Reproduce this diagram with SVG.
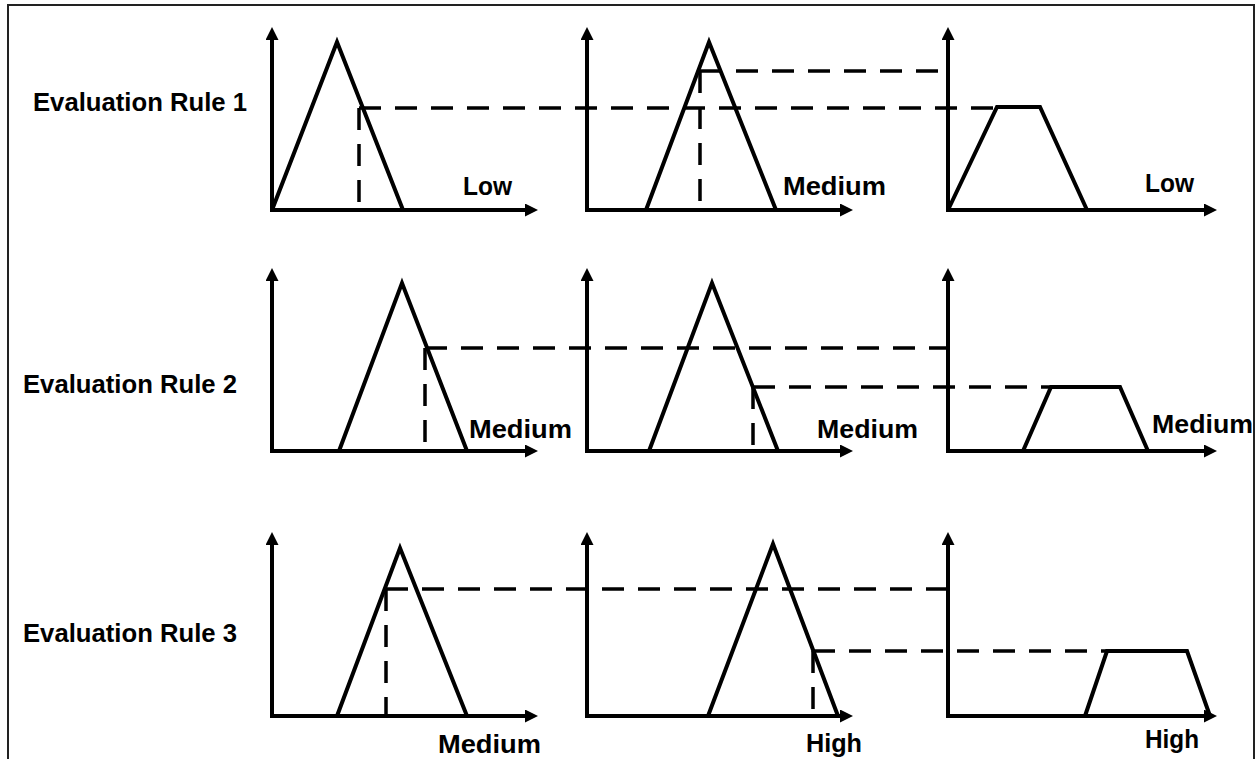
<svg xmlns="http://www.w3.org/2000/svg" width="1259" height="759" viewBox="0 0 1259 759">
<style>
.frame{fill:none;stroke:#222;stroke-width:2}
.axis{fill:none;stroke:#000;stroke-width:4;stroke-linejoin:miter;marker-start:url(#ah);marker-end:url(#ah)}
.mf{fill:none;stroke:#000;stroke-width:4;stroke-linejoin:miter}
.dash{fill:none;stroke:#000;stroke-width:3.5;stroke-dasharray:22 14}
.lbl{font-family:"Liberation Sans",Arial,sans-serif;font-weight:bold;font-size:25.5px;fill:#000}
</style>
<defs>
<marker id="ah" markerUnits="userSpaceOnUse" markerWidth="14" markerHeight="14" refX="3" refY="6.5" orient="auto-start-reverse">
<path d="M0,0 L13,6.5 L0,13 z" fill="#000"/>
</marker>
</defs>
<rect class="frame" x="8" y="5" width="1246" height="800"/>

<g id="labels">
<text class="lbl" x="33" y="111" textLength="214" lengthAdjust="spacingAndGlyphs">Evaluation Rule 1</text>
<text class="lbl" x="23" y="393" textLength="214" lengthAdjust="spacingAndGlyphs">Evaluation Rule 2</text>
<text class="lbl" x="23" y="642" textLength="214" lengthAdjust="spacingAndGlyphs">Evaluation Rule 3</text>
</g>

<g id="r1p1">
<path class="axis" d="M272,37 L272,210 L528,210"/>
<polyline class="mf" points="272,210 337,42 403,210"/>
<text class="lbl" x="463" y="195" textLength="49" lengthAdjust="spacingAndGlyphs">Low</text>
</g>
<g id="r1p2">
<path class="axis" d="M587,37 L587,210 L843,210"/>
<polyline class="mf" points="646,210 709,42 776,210"/>
<text class="lbl" x="783" y="195" textLength="103" lengthAdjust="spacingAndGlyphs">Medium</text>
</g>
<g id="r1p3">
<path class="axis" d="M948,37 L948,210 L1207,210"/>
<polyline class="mf" points="948,210 997,107 1040,107 1087,210"/>
<text class="lbl" x="1145" y="192" textLength="49" lengthAdjust="spacingAndGlyphs">Low</text>
</g>

<g id="r2p1">
<path class="axis" d="M272,278 L272,451 L528,451"/>
<polyline class="mf" points="339,451 402,283 467,451"/>
<text class="lbl" x="469" y="438" textLength="103" lengthAdjust="spacingAndGlyphs">Medium</text>
</g>
<g id="r2p2">
<path class="axis" d="M587,278 L587,451 L843,451"/>
<polyline class="mf" points="649,451 712,283 778,451"/>
<text class="lbl" x="817" y="438" textLength="101" lengthAdjust="spacingAndGlyphs">Medium</text>
</g>
<g id="r2p3">
<path class="axis" d="M948,278 L948,451 L1207,451"/>
<polyline class="mf" points="1023,451 1051,387 1120,387 1148,451"/>
<text class="lbl" x="1152" y="433" textLength="101" lengthAdjust="spacingAndGlyphs">Medium</text>
</g>

<g id="r3p1">
<path class="axis" d="M272,542 L272,716 L528,716"/>
<polyline class="mf" points="337,716 400,548 467,716"/>
<text class="lbl" x="438" y="753" textLength="103" lengthAdjust="spacingAndGlyphs">Medium</text>
</g>
<g id="r3p2">
<path class="axis" d="M587,542 L587,716 L843,716"/>
<polyline class="mf" points="708,716 773,544 838,716"/>
<text class="lbl" x="806" y="752" textLength="56" lengthAdjust="spacingAndGlyphs">High</text>
</g>
<g id="r3p3">
<path class="axis" d="M948,542 L948,716 L1207,716"/>
<polyline class="mf" points="1085,716 1107,651 1187,651 1210,716"/>
<text class="lbl" x="1145" y="748" textLength="54" lengthAdjust="spacingAndGlyphs">High</text>
</g>

<g id="connectors">
<line class="dash" x1="359" y1="108" x2="997" y2="108"/>
<line class="dash" x1="359" y1="108" x2="359" y2="210"/>
<line class="dash" x1="700" y1="71" x2="948" y2="71"/>
<line class="dash" x1="700" y1="71" x2="700" y2="210"/>
<line class="dash" x1="425" y1="348" x2="948" y2="348"/>
<line class="dash" x1="425" y1="348" x2="425" y2="451"/>
<line class="dash" x1="753" y1="387" x2="1051" y2="387"/>
<line class="dash" x1="753" y1="387" x2="753" y2="451"/>
<line class="dash" x1="386" y1="589" x2="948" y2="589"/>
<line class="dash" x1="386" y1="589" x2="386" y2="716"/>
<line class="dash" x1="813" y1="651" x2="1107" y2="651"/>
<line class="dash" x1="813" y1="651" x2="813" y2="716"/>
</g>
</svg>
